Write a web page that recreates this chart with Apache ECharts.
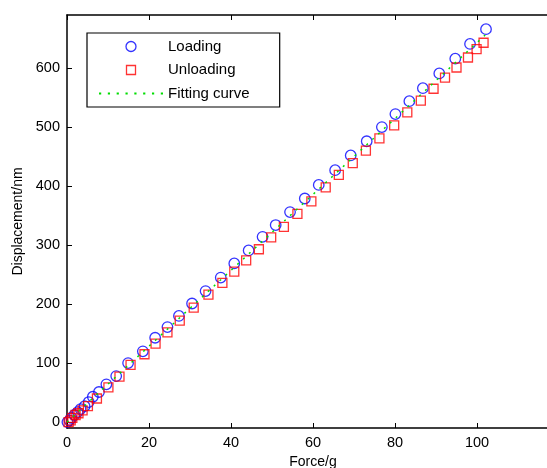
<!DOCTYPE html>
<html>
<head>
<meta charset="utf-8">
<script src="https://cdn.jsdelivr.net/npm/echarts@6/dist/echarts.min.js"></script>
<style>
html,body{margin:0;padding:0;background:#fff;}
#c{width:547px;height:468px;}
</style>
</head>
<body>
<div id="c"></div>
<script>
// Loading (blue circles)
const loadX = [0.1,0.6,1.1,1.8,2.6,3.3,4.3,5.3,6.3,7.8,9.6,12.0,14.9,18.5,21.5,24.5,27.3,30.5,33.8,37.5,40.8,44.3,47.7,50.9,54.4,58.0,61.4,65.4,69.2,73.1,76.8,80.1,83.5,86.8,90.8,94.7,98.3,102.2];
const loadY = [0,3,7,12,17,22,27,34,43,51,64,78,100,120,143,161,180,201,222,245,269,291,314,334,356,379,402,427,452,476,500,522,544,566,591,616,641,666];
// Unloading (red squares)
const unloadX = [0.4,0.9,1.3,2.1,2.8,3.8,5.1,7.3,10.1,12.8,15.5,18.9,21.6,24.5,27.5,30.9,34.5,37.9,40.8,43.7,46.8,49.8,52.9,56.2,59.6,63.1,66.3,69.7,72.9,76.2,79.8,83.0,86.3,89.4,92.2,95.0,97.8,99.9,101.6];
const unloadY = [0,3,7,12,15,20,27,40,59,77,97,115,133,152,172,194,216,236,255,274,293,313,331,353,374,398,419,439,460,481,503,525,545,565,584,601,618,632,643];
// Fitting curve (green dotted)
const fitX = [0, 102];
const fitY = [0, 656];

const seriesNames = ['Loading', 'Unloading', 'Fitting curve'];
const xTitle = 'Force/g';
const yTitle = 'Displacement/nm';

const zip = (a, b) => a.map((v, i) => [v, b[i]]);
const FONT = 'Liberation Sans, Arial, Helvetica, sans-serif';

// legend icons (shapes only)
const squareIcon = 'path://M0,0M12,12M1.5,1.5L10.5,1.5L10.5,10.5L1.5,10.5Z';
const circleIcon = 'path://M0,0M12,12M11,6A5,5,0,1,1,1,6A5,5,0,1,1,11,6Z';
let dots = 'path://';
for (let i = 0; i < 8; i++) { const x = i * 8; dots += 'M' + x + ',0h2v2h-2z'; }

const chart = echarts.init(document.getElementById('c'), null, {renderer: 'canvas'});
const axisLine = {show: true, onZero: false, lineStyle: {color: '#000', width: 1.5}};
chart.setOption({
  animation: false,
  backgroundColor: '#fff',
  grid: {left: 67, width: 492, top: 15, bottom: 40, containLabel: false, outerBoundsMode: 'none'},
  xAxis: [{
    type: 'value', min: 0, max: 120, interval: 20, position: 'bottom',
    name: xTitle, nameLocation: 'middle', nameGap: 24,
    nameTextStyle: {color: '#000', fontSize: 14, fontFamily: FONT},
    axisLine: axisLine,
    axisTick: {show: true, inside: true, length: 5, lineStyle: {color: '#000', width: 1}},
    axisLabel: {color: '#000', fontSize: 14.5, fontFamily: FONT, margin: 7},
    splitLine: {show: false}
  }, {
    type: 'value', min: 0, max: 120, interval: 20, position: 'top',
    axisLine: axisLine,
    axisTick: {show: true, inside: true, length: 5, lineStyle: {color: '#000', width: 1}},
    axisLabel: {show: false},
    splitLine: {show: false}
  }],
  yAxis: [{
    type: 'value', min: -10, max: 690, splitNumber: 7,
    name: yTitle, nameLocation: 'middle', nameGap: 37,
    nameTextStyle: {color: '#000', fontSize: 14, fontFamily: FONT},
    axisLine: axisLine,
    axisTick: {show: true, inside: true, length: 5, lineStyle: {color: '#000', width: 1}},
    axisLabel: {color: '#000', fontSize: 14.5, fontFamily: FONT, margin: 7, showMinLabel: false, showMaxLabel: false},
    splitLine: {show: false}
  }],
  legend: {
    orient: 'vertical', left: 87, top: 33,
    padding: [6, 30, 6, 12], itemGap: 8.5, itemWidth: 64, itemHeight: 12,
    symbolKeepAspect: true,
    backgroundColor: '#fff', borderColor: '#000', borderWidth: 1.2, borderRadius: 0,
    textStyle: {color: '#000', fontSize: 15, fontFamily: FONT},
    data: [
      {name: seriesNames[0], icon: circleIcon, itemStyle: {color: 'rgba(0,0,0,0)', borderColor: '#0000ff', borderWidth: 1.3}},
      {name: seriesNames[1], icon: squareIcon, itemStyle: {color: 'rgba(0,0,0,0)', borderColor: '#ff0000', borderWidth: 1.3}},
      {name: seriesNames[2], icon: dots, itemStyle: {color: '#00dd00', borderWidth: 0}}
    ]
  },
  series: [{
    name: seriesNames[0], type: 'scatter', data: zip(loadX, loadY),
    symbol: 'circle', symbolSize: 10.5,
    itemStyle: {color: 'rgba(0,0,0,0)', borderColor: '#0000ff', borderWidth: 1.3}
  }, {
    name: seriesNames[1], type: 'scatter', data: zip(unloadX, unloadY),
    symbol: 'rect', symbolSize: 9,
    itemStyle: {color: 'rgba(0,0,0,0)', borderColor: '#ff0000', borderWidth: 1.3}
  }, {
    name: seriesNames[2], type: 'line', data: zip(fitX, fitY),
    symbol: 'none', showSymbol: false,
    lineStyle: {color: '#00dd00', width: 1.5, type: [2, 6]},
    itemStyle: {color: '#00dd00'}
  }]
});
</script>
</body>
</html>
